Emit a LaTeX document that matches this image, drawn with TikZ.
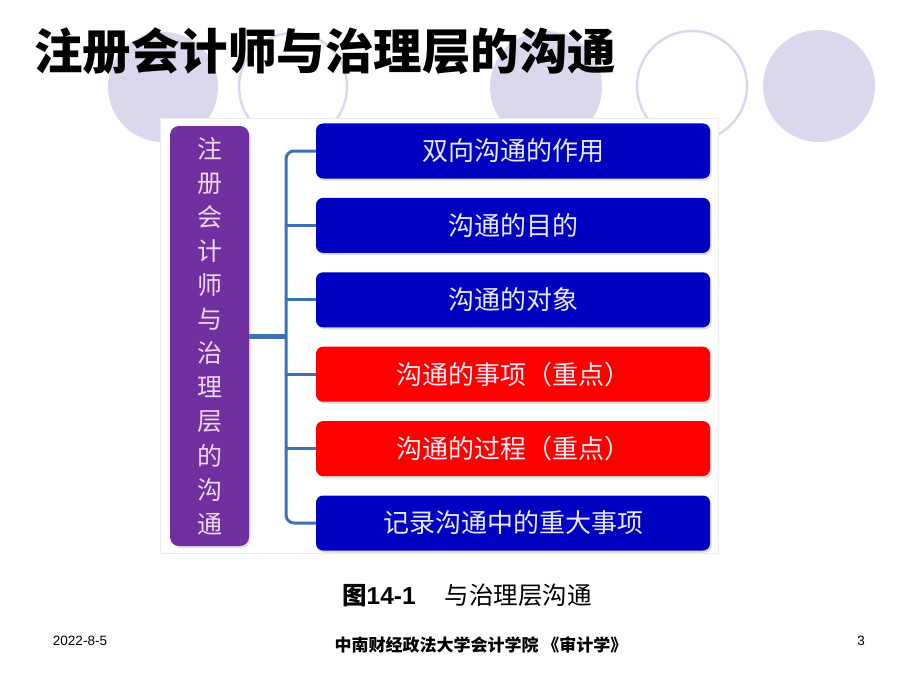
\documentclass[tikz,border=0pt]{standalone}
\usepackage{fontspec}
\setmainfont{Liberation Sans}
\newfontfamily\cjk{Noto Sans CJK SC}
\usetikzlibrary{positioning,shadows}
\definecolor{circfill}{RGB}{217,216,236}
\definecolor{rootpurple}{RGB}{112,48,160}
\definecolor{itemblue}{RGB}{0,0,192}
\definecolor{itemred}{RGB}{255,0,0}
\definecolor{linkblue}{RGB}{62,112,180}
\definecolor{itemtext}{RGB}{232,232,245}
\definecolor{roottext}{RGB}{240,214,240}

\begin{document}
\begin{tikzpicture}[x=1pt, y=-1pt, line join=round, line cap=round,
    item/.style={rounded corners=7pt, minimum width=394pt, minimum height=55pt, inner sep=0pt,
      text=itemtext, font=\cjk\fontsize{26}{26}\selectfont,
      drop shadow={fill=black!40, opacity=0.35, shadow xshift=1.5pt, shadow yshift=-2pt}},
    link/.style={draw=linkblue, line width=3pt, line cap=butt}]
  \useasboundingbox (0,0) rectangle (920,690);
  % decorative circles behind the title
  \fill[circfill] (163,87) circle (55);
  \draw[circfill, line width=2.5pt] (293,87) circle (54);
  \fill[circfill] (546,87) circle (56);
  \draw[circfill, line width=2.5pt] (692,86) circle (55);
  \fill[circfill] (819,86) circle (56);
  \node[anchor=west, inner sep=0pt, font=\cjk\bfseries\fontsize{48.5}{50}\selectfont] (title) at (34,51) {注册会计师与治理层的沟通};
  % picture of the chart
  \draw[fill=white, draw=black!8] (160,118) rectangle (718,553);
  \node[fill=rootpurple, rounded corners=9pt, minimum width=79pt, minimum height=420pt, inner sep=0pt,
    drop shadow={fill=black!40, opacity=0.3, shadow xshift=1.5pt, shadow yshift=-2pt},
    text=roottext, align=center, font=\cjk\fontsize{25}{34.1}\selectfont] (root) at (209.5,336)
    {注\\册\\会\\计\\师\\与\\治\\理\\层\\的\\沟\\通};
  \node[item, fill=itemblue] (b1) at (513,151) {双向沟通的作用};
  \node[item, fill=itemblue, below=19pt of b1] (b2) {沟通的目的};
  \node[item, fill=itemblue, below=19pt of b2] (b3) {沟通的对象};
  \node[item, fill=itemred, below=19pt of b3] (b4) {沟通的事项（重点）};
  \node[item, fill=itemred, below=19pt of b4] (b5) {沟通的过程（重点）};
  \node[item, fill=itemblue, below=19pt of b5] (b6) {记录沟通中的重大事项};
  \coordinate (sp) at (286,336);
  \draw[link, rounded corners=8pt] (b1.west) -| (sp |- b6.west) -- (b6.west);
  \foreach \b in {b2,b3,b4,b5}
    \draw[link] (\b.west) -- (sp |- \b.west);
  \draw[link, line width=5pt] (root.east) -- (sp |- root.east);
  % caption and footer
  \node[anchor=west, inner sep=0pt, font=\fontsize{24.5}{26}\selectfont] (caption) at (342,595)
    {{\cjk\bfseries 图}\textbf{14-1}\hspace{29pt}{\cjk 与治理层沟通}};
  \node[inner sep=0pt, font=\fontsize{13.5}{14}\selectfont] (date) at (80,641) {2022-8-5};
  \node[inner sep=0pt, font=\cjk\bfseries\fontsize{17}{18}\selectfont] (school) at (481,645) {中南财经政法大学会计学院 《审计学》};
  \node[inner sep=0pt, font=\fontsize{13.5}{14}\selectfont] (page) at (861,641) {3};
\end{tikzpicture}
\end{document}
